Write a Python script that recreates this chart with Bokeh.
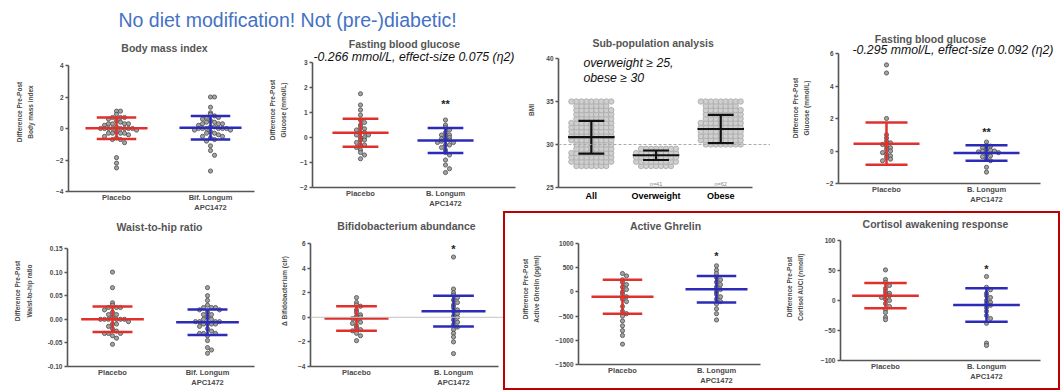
import numpy as np
from bokeh.plotting import figure
from bokeh.layouts import row, column
from bokeh.models import Label, Span, FixedTicker, ColumnDataSource, Range1d, PrintfTickFormatter
from bokeh.embed import file_html
from bokeh.resources import INLINE
from bokeh.core.properties import value

# ---------------- data ----------------
groups_bif = ["Placebo", "Bif. Longum\nAPC1472"]
groups_b = ["Placebo", "B. Longum\nAPC1472"]
subpop_groups = ["All", "Overweight", "Obese"]

bmi_placebo = [1.1, 1.1, 0.9, 0.7, 0.7, 0.7, 0.6, 0.5, 0.4, 0.3, 0.3, 0.3, 0.3, 0.2, 0.1, 0.0, 0.0, 0.0,
               0.0, 0.0, 0.0, 0.0, 0.0, -0.1, -0.2, -0.3, -0.3, -0.3, -0.3, -0.4, -0.5, -0.6, -0.7, -0.7,
               -0.9, -1.85, -2.2, -2.5]
bmi_probiotic = [2.0, 2.0, 1.35, 1.0, 0.9, 0.8, 0.7, 0.7, 0.6, 0.5, 0.4, 0.4, 0.3, 0.3, 0.3, 0.2, 0.1, 0.1,
                 0.0, 0.0, 0.0, 0.0, 0.0, 0.0, -0.1, -0.1, -0.2, -0.3, -0.3, -0.4, -0.5, -0.5, -0.6, -0.7,
                 -0.8, -1.1, -1.4, -1.7, -2.7]
bmi_mean = [0.02, 0.05]
bmi_sd = [0.68, 0.75]

fbg_placebo = [1.75, 1.3, 1.1, 0.9, 0.7, 0.6, 0.5, 0.4, 0.35, 0.3, 0.2, 0.2, 0.1, 0.1, 0.0, 0.0, -0.1,
               -0.1, -0.2, -0.3, -0.3, -0.4, -0.5, -0.6, -0.7, -0.85]
fbg_probiotic = [0.7, 0.5, 0.4, 0.3, 0.2, 0.1, 0.1, 0.0, 0.0, -0.05, -0.1, -0.1, -0.15, -0.2, -0.2, -0.3,
                 -0.3, -0.4, -0.5, -0.6, -0.7, -0.9, -1.1, -1.25, -1.4]
fbg_mean = [0.19, -0.12]
fbg_sd = [0.56, 0.50]
fbg_star = 1.5

bmi_levels = [27.5, 28.0, 28.5, 29.0, 29.5, 30.0, 30.5, 31.0, 31.5, 32.0, 32.5, 33.0, 33.5, 34.0, 34.5, 35.0]
overweight_counts = [7, 9, 9, 9, 8, 0, 0, 0, 0, 0, 0, 0, 0, 0, 0, 0]
obese_counts = [0, 0, 0, 0, 0, 8, 9, 9, 9, 9, 9, 8, 8, 8, 7, 9]
subpop_mean = [30.85, 28.75, 31.8]
subpop_sd = [1.9, 0.55, 1.65]
subpop_n = ["", "n=41", "n=62"]

fbg2_placebo = [5.3, 4.8, 2.0, 1.0, 0.8, 0.6, 0.5, 0.4, 0.3, 0.2, 0.1, 0.0, -0.1, -0.2, -0.3, -0.4, -0.5, -0.6]
fbg2_probiotic = [0.55, 0.35, 0.3, 0.2, 0.1, 0.05, 0.0, 0.0, -0.05, -0.1, -0.2, -0.3, -0.35, -0.5, -0.6, -1.0, -1.3]
fbg2_mean = [0.45, -0.12]
fbg2_sd = [1.3, 0.48]
fbg2_star = 1.4

whr_placebo = [0.10, 0.067, 0.035, 0.03, 0.025, 0.025, 0.025, 0.02, 0.015, 0.01, 0.01, 0.005, 0.0, 0.0,
               0.0, 0.0, 0.0, 0.0, -0.005, -0.01, -0.01, -0.015, -0.02, -0.025, -0.03, -0.03, -0.03,
               -0.035, -0.04, -0.053]
whr_probiotic = [0.067, 0.05, 0.04, 0.03, 0.025, 0.025, 0.025, 0.02, 0.02, 0.015, 0.01, 0.01, 0.005, 0.0,
                 0.0, -0.005, -0.005, -0.005, -0.005, -0.01, -0.01, -0.01, -0.01, -0.015, -0.02, -0.025,
                 -0.03, -0.03, -0.03, -0.035, -0.045, -0.06, -0.065, -0.072]
whr_mean = [0.0, -0.006]
whr_sd = [0.027, 0.027]

bif_placebo = [1.6, 1.2, 1.0, 0.9, 0.6, 0.4, 0.2, 0.1, 0.0, -0.1, -0.2, -0.4, -0.5, -0.7, -0.9, -1.0,
               -1.1, -1.3, -1.5, -1.9]
bif_probiotic = [4.9, 2.3, 2.0, 1.8, 1.6, 1.4, 1.2, 1.0, 0.8, 0.6, 0.5, 0.3, 0.1, 0.0, -0.2, -0.4, -0.6,
                 -0.8, -1.0, -1.3, -1.6, -2.0, -2.95]
bif_mean = [-0.1, 0.5]
bif_sd = [1.0, 1.25]
bif_star = 5.85

ghr_placebo = [380, 330, 250, 200, 150, 100, 50, 0, -50, -100, -150, -200, -300, -400, -450, -500,
               -600, -700, -800, -900, -1080]
ghr_probiotic = [540, 450, 380, 300, 250, 200, 150, 100, 50, 0, -50, -100, -150, -200, -250, -350, -450, -580]
ghr_mean = [-100, 55]
ghr_sd = [350, 275]
ghr_star = 830

cort_placebo = [51, 35, 30, 25, 20, 15, 12, 10, 8, 5, 2, 0, -5, -10, -15, -20, -28, -32]
cort_probiotic = [40, 22, 18, 12, 8, 5, 0, -3, -5, -8, -12, -18, -25, -30, -38, -71, -75]
cort_mean = [8, -7.5]
cort_sd = [21, 28]
cort_star = 60

RED = "#e0302c"
BLUE = "#2b2bb8"
TXT = "#4a4a4a"
FONT = "Liberation Sans"
XB = 24  # common bottom border of every plot (x tick labels)


def swarm(vals, binw, dx):
    vals = np.asarray(vals, float)
    bins = np.round(vals / binw).astype(int)
    off = np.zeros(len(vals))
    for b in np.unique(bins):
        idx = np.where(bins == b)[0]
        for k, i in enumerate(idx):
            j = (k + 1) // 2
            off[i] = j * dx * (1 if k % 2 else -1)
    return off


def panel(fig, axes, ylim, yticks, ylabel, ystand, cpx, xlabels, title, tpos, fmt=None):
    """fig = (x0, y0, w) on the page; axes = (y-axis x, x-axis right end, top tick y, x-axis y)."""
    fx0, fy0, fw = fig
    al, ar, at, ab = axes
    fh = ab + XB - fy0
    fr = fx0 + fw
    upx = 1.0 / (cpx[1] - cpx[0])
    x0 = 1 - (cpx[0] - al) * upx
    x1 = 1 + (fr - cpx[0]) * upx
    upy = (ylim[1] - ylim[0]) / (ab - at)
    y1 = ylim[1] + (at - fy0) * upy
    p = figure(width=fw, height=fh, x_range=Range1d(x0, x1), y_range=Range1d(ylim[0], y1),
               output_backend="svg", toolbar_location=None,
               min_border_left=al - fx0, min_border_right=0,
               min_border_top=0, min_border_bottom=XB)
    p.title_location = None
    p.grid.visible = False
    p.outline_line_color = None

    def to_data(px, py):
        return (x0 + (px - al) * upx, ylim[0] + (ab - py) * upy)

    p.yaxis.ticker = FixedTicker(ticks=yticks)
    p.yaxis.bounds = (ylim[0], ylim[1])
    p.xaxis.bounds = (x0, to_data(ar, 0)[0])
    if fmt:
        p.yaxis.formatter = PrintfTickFormatter(format=fmt)
    p.xaxis.ticker = FixedTicker(ticks=list(range(1, len(xlabels) + 1)))
    p.xaxis.major_label_overrides = {i + 1: s for i, s in enumerate(xlabels)}
    for ax in (p.xaxis[0], p.yaxis[0]):
        ax.axis_line_color = "#555555"
        ax.axis_line_width = 1.6
        ax.major_tick_line_color = "#555555"
        ax.major_tick_line_width = 1.4
        ax.minor_tick_line_color = None
        ax.major_label_text_font = FONT
        ax.major_label_text_font_style = "bold"
        ax.major_label_text_color = TXT
    p.yaxis.major_tick_out = 3
    p.yaxis.major_tick_in = 0
    p.yaxis.major_label_text_font_size = "6.5px"
    p.yaxis.major_label_standoff = 2
    p.xaxis.major_tick_line_color = None
    p.xaxis.major_tick_out = 0
    p.xaxis.major_tick_in = 0
    p.xaxis.major_label_text_font_size = "7.5px"
    p.xaxis.major_label_standoff = 1
    p.xaxis.axis_label_standoff = 0
    p.yaxis.axis_label = ylabel
    p.yaxis.axis_label_text_font = FONT
    p.yaxis.axis_label_text_font_style = "bold"
    p.yaxis.axis_label_text_font_size = "6.5px"
    p.yaxis.axis_label_text_line_height = 1.6
    p.yaxis.axis_label_text_color = TXT
    p.yaxis.axis_label_standoff = ystand
    tx, ty = to_data(*tpos)
    p.add_layout(Label(x=tx, y=ty, text=title, text_align="center", text_baseline="middle",
                       text_font=FONT, text_font_style="bold", text_font_size="10.5px",
                       text_color="#555555"))
    return p, to_data, upx


def groupdraw(p, xc, vals, mean, sd, color, binw, dx, mw=0.33, cw=0.21, size=4.2,
              fill="#a4a4a4", line="#4a4a4a", lw=2.5):
    off = swarm(vals, binw, dx)
    src = ColumnDataSource(dict(x=xc + off, y=np.asarray(vals, float)))
    p.scatter("x", "y", source=src, size=size, marker="circle", fill_color=fill,
              line_color=line, line_width=0.8)
    es = ColumnDataSource(dict(xl=[xc - mw], xr=[xc + mw], cl=[xc - cw], cr=[xc + cw], xc=[xc],
                               m=[mean], lo=[mean - sd], hi=[mean + sd]))
    p.segment(x0="xl", x1="xr", y0="m", y1="m", source=es, line_color=color, line_width=lw)
    p.segment(x0="xc", x1="xc", y0="lo", y1="hi", source=es, line_color=color, line_width=lw)
    p.segment(x0="cl", x1="cr", y0="hi", y1="hi", source=es, line_color=color, line_width=lw)
    p.segment(x0="cl", x1="cr", y0="lo", y1="lo", source=es, line_color=color, line_width=lw)


def star(p, x, y, s):
    p.text(x=[x], y=[y], text=[s], text_align="center", text_baseline="middle", y_offset=4,
           text_font=value(FONT), text_font_style="bold", text_font_size="11px", text_color="#222222")


def italic_note(p, to_data, px, py, s):
    x, y = to_data(px, py)
    p.add_layout(Label(x=x, y=y, text=s, text_align="left", text_baseline="middle",
                       text_font=FONT, text_font_style="italic", text_font_size="12.3px",
                       text_color="#111111"))


def two_group(p, upx, ppu, pla, pro, mean, sd, binpx=4.2):
    binw = binpx / ppu
    dx = 4.0 * upx
    groupdraw(p, 1, pla, mean[0], sd[0], RED, binw, dx)
    groupdraw(p, 2, pro, mean[1], sd[1], BLUE, binw, dx)


# ---------------- title strip ----------------
ptitle = figure(width=1060, height=32, x_range=Range1d(0, 1060), y_range=Range1d(32, 0),
                output_backend="svg", toolbar_location=None, x_axis_location=None,
                y_axis_location=None, min_border=0)
ptitle.title_location = None
ptitle.outline_line_color = None
ptitle.grid.visible = False
ptitle.add_layout(Label(x=118, y=19, text="No diet modification! Not (pre-)diabetic!",
                        text_align="left", text_baseline="middle", text_font=FONT,
                        text_font_size="19.5px", text_color="#4472c4"))

# ---------------- top row ----------------
TOP = 32
p1, d1, u1 = panel((0, TOP, 258), (68, 254, 65, 191), (-4, 4), [-4, -2, 0, 2, 4],
                   "Difference Pre-Post\nBody mass index", 19, (116, 210), groups_bif,
                   "Body mass index", (164, 47))
two_group(p1, u1, 126 / 8, bmi_placebo, bmi_probiotic, bmi_mean, bmi_sd, binpx=6.0)

p2, d2, u2 = panel((258, TOP, 267), (312, 515, 62, 187), (-2, 3), [-2, -1, 0, 1, 2, 3],
                   "Difference Pre-Post\nGlucose (mmol/L)", 10, (360, 445), groups_b,
                   "Fasting blood glucose", (404, 43))
two_group(p2, u2, 125 / 5, fbg_placebo, fbg_probiotic, fbg_mean, fbg_sd)
star(p2, 2, fbg_star, "**")
italic_note(p2, d2, 313, 56, "-0.266 mmol/L, effect-size 0.075 (\u03b72)")

p3, d3, u3 = panel((525, TOP, 245), (557, 752, 58, 187), (25, 40), [25, 30, 35, 40],
                   "BMI", 8, (590, 655), subpop_groups, "Sub-population analysis", (652, 42))
p3.xaxis.major_label_text_font_size = "9px"
p3.xaxis.major_label_text_color = "#000000"
p3.xaxis.major_label_standoff = 3
p3.add_layout(Span(location=30, dimension="width", line_color="#aaaaaa", line_dash="3 2", line_width=1))
ow = np.repeat(bmi_levels, overweight_counts)
ob = np.repeat(bmi_levels, obese_counts)
sub_sets = [np.concatenate([ow, ob]), ow, ob]
for i, vals in enumerate(sub_sets):
    groupdraw(p3, i + 1, vals, subpop_mean[i], subpop_sd[i], "#111111", 0.5, 5.0 * u3,
              mw=0.36, cw=0.2, size=5.5, fill="#cfcfcf", line="#a8a8a8", lw=2.2)
    if subpop_n[i]:
        ny = d3(0, 183)[1]
        p3.add_layout(Label(x=i + 1, y=ny, text=subpop_n[i], text_align="center",
                            text_baseline="middle", text_font=FONT, text_font_size="5.5px",
                            text_color="#888888"))
italic_note(p3, d3, 582, 62, "overweight \u2265 25,")
italic_note(p3, d3, 582, 77, "obese \u2265 30")

p4, d4, u4 = panel((770, TOP, 288), (838, 1040, 53, 183), (-2, 6), [-2, 0, 2, 4, 6],
                   "Difference Pre-Post\nGlucose (mmol/L)", 13, (886, 986), groups_b,
                   "Fasting blood glucose", (930, 38))
two_group(p4, u4, 130 / 8, fbg2_placebo, fbg2_probiotic, fbg2_mean, fbg2_sd)
star(p4, 2, fbg2_star, "**")
italic_note(p4, d4, 852, 49, "-0.295 mmol/L, effect-size 0.092 (\u03b72)")

# ---------------- bottom row ----------------
BOT = TOP + p1.height
p5, d5, u5 = panel((0, BOT, 258), (67, 254, 248, 366), (-0.10, 0.15),
                   [-0.10, -0.05, 0.0, 0.05, 0.10, 0.15],
                   "Difference Pre-Post\nWaist-to-hip ratio", 12, (112, 207), groups_bif,
                   "Waist-to-hip ratio", (159, 226), fmt="%.2f")
two_group(p5, u5, 118 / 0.25, whr_placebo, whr_probiotic, whr_mean, whr_sd, binpx=6.0)

p6, d6, u6 = panel((258, BOT, 245), (310, 498, 243, 366), (-4, 6), [-4, -2, 0, 2, 4, 6],
                   "\u0394 Bifidobacterium (clr)", 7, (356, 453), groups_b,
                   "Bifidobacterium abundance", (406, 225))
p6.add_layout(Span(location=0, dimension="width", line_color="#c4c4c4", line_width=1))
two_group(p6, u6, 123 / 10, bif_placebo, bif_probiotic, bif_mean, bif_sd)
star(p6, 2, bif_star, "*")

BOX = BOT - 2  # the red frame is pulled up by 4px, its inner edge is 2px lower
p7, d7, u7 = panel((505, BOX, 270), (578, 760, 243, 364), (-1500, 1000),
                   [-1500, -1000, -500, 0, 500, 1000],
                   "Difference Pre-Post\nActive Ghrelin (pg/ml)", 12, (622, 716), groups_b,
                   "Active Ghrelin", (665, 225))
two_group(p7, u7, 121 / 2500, ghr_placebo, ghr_probiotic, ghr_mean, ghr_sd)
star(p7, 2, ghr_star, "*")

p8, d8, u8 = panel((775, BOX, 283), (840, 1040, 240, 360), (-100, 100),
                   [-100, -50, 0, 50, 100],
                   "Difference Pre-Post\nCortisol AUCi (nmol/l)", 14, (885, 986), groups_b,
                   "Cortisol awakening response", (935, 223))
two_group(p8, u8, 120 / 200, cort_placebo, cort_probiotic, cort_mean, cort_sd)
star(p8, 2, cort_star, "*")

box = row(p7, p8, styles={"border": "2px solid #c00000", "margin-top": "-4px"})
layout = column(ptitle, row(p1, p2, p3, p4), row(p5, p6, box))

open("out.html", "w").write(file_html(layout, INLINE))
